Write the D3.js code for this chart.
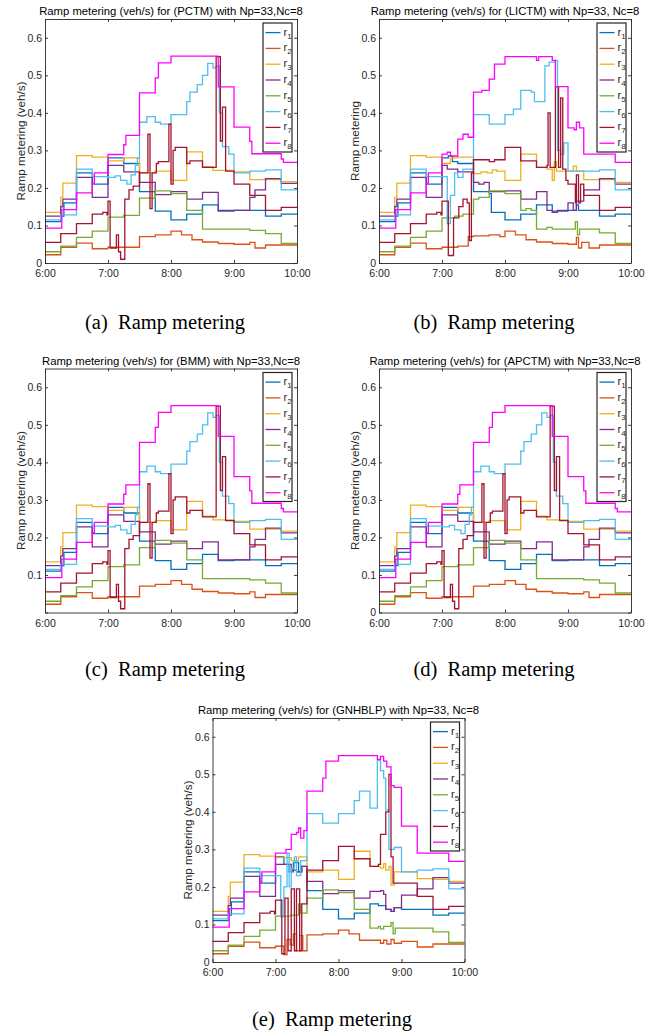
<!DOCTYPE html>
<html>
<head>
<meta charset="utf-8">
<script src="https://cdn.jsdelivr.net/npm/d3@7"></script>
<style>
  body { margin: 0; background: #fff; }
</style>
</head>
<body>
<script>
// time in minutes after 6:00, value in veh/s (step changes)
const hourLabels = ['6:00', '7:00', '8:00', '9:00', '10:00'];
const hourTicks = [0, 60, 120, 180, 240];
const yTicks = [0, 0.1, 0.2, 0.3, 0.4, 0.5, 0.6];
const seriesIds = ['1', '2', '3', '4', '5', '6', '7', '8'];
const colors = ['#0072BD', '#D95319', '#EDB120', '#7E2F8E', '#77AC30', '#4DBEEE', '#A2142F', '#FF00FF'];

// PCTM (also BMM, APCTM)
const pctm_r1 = [[0,0.11],[15,0.125],[18,0.16],[30,0.24],[45,0.21],[60,0.28],[75,0.265],[90,0.19],[105,0.138],[120,0.115],[135,0.13],[150,0.155],[165,0.138],[180,0.14],[210,0.125],[225,0.13]];
const pctm_r2 = [[0,0.022],[15,0.042],[30,0.053],[45,0.038],[60,0.042],[75,0.042],[90,0.07],[105,0.075],[120,0.085],[130,0.075],[140,0.062],[150,0.056],[165,0.052],[180,0.05],[195,0.055],[200,0.04],[210,0.048]];
const pctm_r3 = [[0,0.135],[15,0.175],[17,0.213],[30,0.286],[45,0.282],[60,0.272],[75,0.28],[90,0.24],[105,0.245],[120,0.22],[135,0.296],[150,0.257],[160,0.247],[180,0.243],[195,0.222],[225,0.217]];
const pctm_r4 = [[0,0.125],[15,0.15],[17,0.17],[30,0.228],[45,0.175],[60,0.26],[75,0.243],[90,0.215],[105,0.182],[120,0.19],[135,0.17],[150,0.188],[165,0.14],[185,0.14],[195,0.175],[200,0.195],[210,0.225],[225,0.212]];
const pctm_r5 = [[0,0.03],[15,0.045],[30,0.068],[45,0.085],[60,0.122],[75,0.127],[90,0.173],[105,0.192],[120,0.185],[135,0.14],[150,0.09],[180,0.09],[195,0.087],[210,0.078],[225,0.052]];
const pctm_r6 = [[0,0.115],[15,0.128],[30,0.25],[45,0.23],[60,0.228],[67,0.232],[72,0.22],[78,0.21],[82,0.235],[86,0.26],[88,0.28],[90,0.375],[97,0.39],[105,0.375],[110,0.37],[120,0.395],[135,0.43],[138,0.455],[145,0.475],[150,0.5],[155,0.532],[160,0.52],[163,0.525],[166,0.40],[169,0.31],[175,0.29],[180,0.24],[195,0.245],[210,0.248],[225,0.195]];
const pctm_r7 = [[0,0.055],[15,0.078],[30,0.105],[45,0.13],[55,0.135],[59,0.128],[60,0.165],[62,0.04],[68,0.075],[70,0.03],[72,0.01],[76,0.17],[80,0.195],[84,0.205],[90,0.24],[98,0.343],[100,0.145],[102,0.24],[106,0.265],[108,0.27],[118,0.37],[120,0.21],[122,0.3],[124,0.308],[135,0.265],[138,0.272],[150,0.255],[163,0.55],[167,0.325],[169,0.415],[172,0.245],[180,0.21],[195,0.18],[210,0.14],[225,0.148]];
const pctm_r8 = [[0,0.093],[16,0.142],[30,0.187],[45,0.213],[47,0.24],[60,0.289],[75,0.315],[77,0.34],[90,0.453],[105,0.493],[108,0.533],[120,0.551],[165,0.469],[180,0.362],[195,0.324],[197,0.291],[225,0.277],[227,0.268]];

// LICTM
const lictm_r1 = [[0,0.11],[15,0.125],[18,0.16],[30,0.24],[45,0.21],[60,0.28],[66,0.285],[70,0.27],[75,0.265],[90,0.19],[105,0.185],[107,0.135],[120,0.115],[135,0.13],[150,0.155],[165,0.138],[180,0.14],[188,0.155],[190,0.14],[210,0.125],[225,0.13]];
const lictm_r2 = [[0,0.022],[15,0.042],[30,0.053],[45,0.038],[60,0.042],[75,0.045],[85,0.07],[90,0.072],[105,0.075],[115,0.07],[120,0.085],[130,0.075],[140,0.062],[150,0.056],[165,0.052],[180,0.05],[188,0.068],[190,0.04],[193,0.055],[200,0.04],[210,0.048]];
const lictm_r3 = [[0,0.135],[15,0.175],[17,0.213],[30,0.286],[45,0.282],[60,0.265],[68,0.28],[75,0.282],[90,0.238],[97,0.243],[103,0.24],[108,0.248],[112,0.245],[120,0.22],[135,0.29],[150,0.255],[160,0.25],[165,0.22],[167,0.27],[169,0.245],[185,0.258],[188,0.245],[195,0.222],[225,0.215]];
const lictm_r4 = [[0,0.125],[15,0.15],[17,0.17],[30,0.228],[45,0.175],[60,0.26],[65,0.25],[75,0.243],[90,0.215],[95,0.21],[100,0.215],[105,0.19],[120,0.192],[135,0.17],[150,0.19],[160,0.14],[165,0.135],[170,0.14],[180,0.16],[185,0.14],[188,0.165],[195,0.195],[210,0.225],[225,0.21]];
const lictm_r5 = [[0,0.03],[15,0.045],[30,0.068],[45,0.085],[60,0.12],[72,0.125],[80,0.13],[90,0.17],[95,0.175],[105,0.192],[120,0.185],[135,0.14],[140,0.145],[145,0.14],[150,0.09],[160,0.095],[165,0.09],[187,0.11],[189,0.075],[191,0.09],[210,0.08],[225,0.052]];
const lictm_r6 = [[0,0.115],[15,0.128],[30,0.25],[45,0.23],[60,0.23],[65,0.105],[68,0.18],[72,0.24],[75,0.228],[80,0.25],[90,0.395],[105,0.37],[120,0.395],[128,0.41],[135,0.46],[145,0.455],[148,0.43],[158,0.525],[162,0.535],[168,0.54],[170,0.3],[173,0.29],[176,0.32],[180,0.245],[210,0.248],[225,0.195]];
const lictm_r7 = [[0,0.055],[15,0.078],[30,0.105],[45,0.13],[55,0.135],[59,0.128],[60,0.165],[66,0.02],[71,0.12],[76,0.15],[80,0.17],[84,0.16],[86,0.06],[88,0.24],[90,0.275],[105,0.27],[110,0.275],[120,0.308],[135,0.272],[150,0.255],[160,0.26],[161,0.4],[163,0.255],[168,0.47],[171,0.255],[173,0.44],[175,0.25],[178,0.22],[180,0.21],[187,0.16],[188,0.235],[190,0.16],[192,0.21],[195,0.18],[210,0.14],[225,0.148]];
const lictm_r8 = [[0,0.093],[16,0.142],[30,0.187],[45,0.213],[47,0.24],[60,0.29],[65,0.295],[68,0.285],[75,0.33],[80,0.343],[85,0.335],[90,0.455],[98,0.46],[105,0.49],[110,0.53],[120,0.55],[150,0.54],[152,0.55],[165,0.54],[168,0.47],[180,0.36],[186,0.355],[188,0.375],[191,0.36],[195,0.29],[225,0.268]];

// GNHBLP
const gnh_r1 = [[0,0.11],[15,0.125],[18,0.16],[30,0.24],[45,0.21],[60,0.28],[68,0.26],[73,0.24],[77,0.265],[82,0.24],[85,0.255],[90,0.19],[105,0.14],[120,0.115],[135,0.13],[150,0.155],[158,0.15],[165,0.14],[170,0.135],[173,0.145],[180,0.14],[210,0.125],[225,0.13]];
const gnh_r2 = [[0,0.022],[15,0.042],[30,0.053],[45,0.038],[60,0.042],[68,0.02],[71,0.06],[74,0.045],[77,0.075],[80,0.03],[83,0.07],[86,0.03],[90,0.072],[105,0.075],[120,0.085],[130,0.075],[140,0.058],[160,0.05],[163,0.058],[166,0.048],[170,0.06],[173,0.05],[180,0.055],[195,0.04],[210,0.048]];
const gnh_r3 = [[0,0.135],[15,0.175],[17,0.213],[30,0.286],[45,0.282],[60,0.278],[75,0.27],[82,0.28],[90,0.24],[105,0.245],[120,0.22],[135,0.295],[150,0.255],[160,0.25],[163,0.262],[165,0.245],[168,0.255],[170,0.205],[173,0.24],[195,0.222],[210,0.22],[225,0.215]];
const gnh_r4 = [[0,0.125],[15,0.15],[17,0.17],[30,0.228],[45,0.175],[60,0.26],[75,0.245],[80,0.24],[85,0.255],[90,0.215],[105,0.182],[120,0.19],[135,0.17],[150,0.188],[160,0.19],[163,0.18],[165,0.14],[170,0.135],[173,0.145],[180,0.178],[195,0.195],[210,0.225],[225,0.21]];
const gnh_r5 = [[0,0.03],[15,0.045],[30,0.068],[45,0.085],[60,0.122],[75,0.125],[82,0.155],[84,0.13],[90,0.17],[105,0.192],[120,0.185],[135,0.14],[150,0.09],[158,0.095],[160,0.088],[163,0.095],[170,0.105],[172,0.075],[174,0.09],[210,0.08],[225,0.052]];
const gnh_r6 = [[0,0.115],[15,0.128],[30,0.25],[45,0.23],[60,0.23],[65,0.12],[68,0.2],[71,0.29],[73,0.2],[75,0.25],[78,0.28],[80,0.23],[84,0.27],[90,0.395],[105,0.37],[120,0.395],[135,0.43],[140,0.455],[150,0.41],[157,0.537],[160,0.51],[163,0.49],[165,0.405],[168,0.3],[173,0.305],[180,0.24],[195,0.245],[210,0.248],[225,0.195]];
const gnh_r7 = [[0,0.055],[15,0.078],[30,0.105],[45,0.13],[55,0.135],[59,0.128],[60,0.165],[66,0.022],[69,0.17],[72,0.03],[75,0.195],[78,0.03],[80,0.195],[83,0.03],[85,0.155],[90,0.245],[105,0.27],[120,0.308],[135,0.275],[150,0.255],[158,0.26],[160,0.34],[165,0.4],[168,0.5],[170,0.28],[172,0.21],[195,0.175],[210,0.14],[225,0.148]];
const gnh_r8 = [[0,0.093],[16,0.142],[30,0.187],[45,0.213],[47,0.24],[60,0.29],[70,0.3],[75,0.34],[80,0.345],[82,0.357],[84,0.33],[87,0.35],[90,0.455],[105,0.49],[108,0.535],[120,0.55],[150,0.55],[157,0.54],[160,0.548],[163,0.535],[166,0.52],[170,0.47],[173,0.465],[180,0.362],[195,0.29],[225,0.268]];

const pctm = [pctm_r1, pctm_r2, pctm_r3, pctm_r4, pctm_r5, pctm_r6, pctm_r7, pctm_r8];
const lictm = [lictm_r1, lictm_r2, lictm_r3, lictm_r4, lictm_r5, lictm_r6, lictm_r7, lictm_r8];
const gnh = [gnh_r1, gnh_r2, gnh_r3, gnh_r4, gnh_r5, gnh_r6, gnh_r7, gnh_r8];

const W = 252, H = 244;
const sans = '"Liberation Sans", Arial, Helvetica, sans-serif';
const serif = '"Liberation Serif", "Times New Roman", serif';

var svg = d3.select('body').append('svg')
  .attr('width', 656)
  .attr('height', 1033);

const panels = [
  { left: 45, top: 19, data: pctm, title: 'Ramp metering (veh/s) for (PCTM) with Np=33,Nc=8', ylab: 'Ramp metering (veh/s)', tag: '(a)', capX: 165, capY: 328.5, zero: true },
  { left: 379, top: 19, data: lictm, title: 'Ramp metering (veh/s) for (LICTM) with Np=33, Nc=8', ylab: 'Ramp metering', tag: '(b)', capX: 494, capY: 328.5, zero: true },
  { left: 45, top: 368.5, data: pctm, title: 'Ramp metering (veh/s) for (BMM) with Np=33,Nc=8', ylab: 'Ramp metering (veh/s)', tag: '(c)', capX: 165, capY: 676, zero: false },
  { left: 379, top: 368.5, data: pctm, title: 'Ramp metering (veh/s) for (APCTM) with Np=33,Nc=8', ylab: 'Ramp metering (veh/s)', tag: '(d)', capX: 494, capY: 676, zero: true },
  { left: 212.5, top: 718, data: gnh, title: 'Ramp metering (veh/s) for (GNHBLP) with Np=33, Nc=8', ylab: 'Ramp metering (veh/s)', tag: '(e)', capX: 332, capY: 1026, zero: true }
];

panels.forEach(p => {
  const g = svg.append('g').attr('transform', `translate(${p.left},${p.top})`);
  const x = d3.scaleLinear().domain([0, 240]).range([0, W]);
  const y = d3.scaleLinear().domain([0, 0.65]).range([H, 0]);

  const line = d3.line()
    .x(d => x(d[0]))
    .y(d => y(d[1]))
    .curve(d3.curveStepAfter);

  p.data.forEach((s, i) => {
    const pts = s.concat([[240, s[s.length - 1][1]]]);
    g.append('path')
      .datum(pts)
      .attr('d', line)
      .attr('fill', 'none')
      .attr('stroke', colors[i])
      .attr('stroke-width', 1.3);
  });

  // axes, ticks inward like matlab
  const ax = d3.axisBottom(x).tickValues(hourTicks).tickFormat((d, i) => hourLabels[i])
    .tickSizeInner(-3).tickSizeOuter(0).tickPadding(7);
  const ay = d3.axisLeft(y).tickValues(yTicks)
    .tickFormat(d => (d === 0 && !p.zero) ? '' : d3.format('.1~f')(d))
    .tickSizeInner(-3).tickSizeOuter(0).tickPadding(3);
  const axT = d3.axisTop(x).tickValues(hourTicks).tickFormat('').tickSizeInner(-3).tickSizeOuter(0);
  const ayR = d3.axisRight(y).tickValues(yTicks).tickFormat('').tickSizeInner(-3).tickSizeOuter(0);

  g.append('g').attr('transform', `translate(0,${H})`).call(ax);
  g.append('g').call(ay);
  g.append('g').call(axT);
  g.append('g').attr('transform', `translate(${W},0)`).call(ayR);

  g.selectAll('.domain').attr('stroke', '#262626').attr('stroke-width', 0.9);
  g.selectAll('.tick line').attr('stroke', '#262626').attr('stroke-width', 0.9);
  g.selectAll('.tick text').attr('fill', '#262626')
    .style('font-size', '10.5px')
    .style('font-family', sans);

  // title
  g.append('text')
    .attr('x', W / 2)
    .attr('y', -4)
    .attr('text-anchor', 'middle')
    .style('font-size', '11.3px')
    .style('font-family', sans)
    .attr('fill', '#000')
    .text(p.title);

  // y label
  g.append('text')
    .attr('transform', `translate(-20.5,${H / 2}) rotate(-90)`)
    .attr('text-anchor', 'middle')
    .style('font-size', '11.7px')
    .style('font-family', sans)
    .attr('fill', '#262626')
    .text(p.ylab);

  // legend
  const lg = g.append('g').attr('transform', `translate(${W - 34},4)`);
  lg.append('rect')
    .attr('width', 29)
    .attr('height', 129)
    .attr('fill', '#fff')
    .attr('stroke', '#262626')
    .attr('stroke-width', 1.2);
  seriesIds.forEach((id, i) => {
    const yy = 9.6 + i * 15.8;
    lg.append('line')
      .attr('x1', 2.5).attr('x2', 17.5)
      .attr('y1', yy).attr('y2', yy)
      .attr('stroke', colors[i])
      .attr('stroke-width', 1.3);
    const t = lg.append('text')
      .attr('x', 20.5)
      .attr('y', yy + 3)
      .style('font-size', '11px')
      .style('font-family', sans)
      .attr('fill', '#262626');
    t.append('tspan').text('r');
    t.append('tspan').style('font-size', '8px').attr('dy', 3).text(id);
  });

  // caption
  svg.append('text')
    .attr('x', p.capX)
    .attr('y', p.capY)
    .attr('text-anchor', 'middle')
    .style('font-family', serif)
    .style('font-size', '20.5px')
    .attr('fill', '#000')
    .text(p.tag + '\u2002Ramp metering');
});
</script>
</body>
</html>
